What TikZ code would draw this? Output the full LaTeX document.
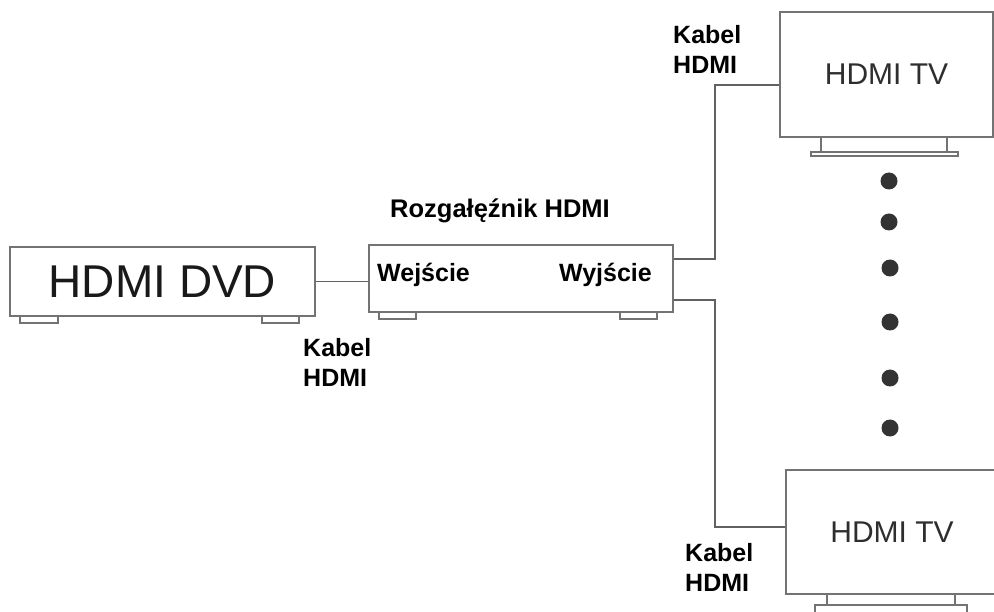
\documentclass[tikz,border=0pt]{standalone}
\usepackage{fontspec}
\setmainfont{Liberation Sans}
\begin{document}
\begin{tikzpicture}[x=1pt,y=-1pt,
  box/.style={draw=black!55,line width=1.6pt,fill=white,inner sep=0pt},
  foot/.style={draw=black!55,line width=1.3pt,fill=white},
  cable/.style={draw=black!62,line width=1.8pt},
  lbl/.style={font=\bfseries\fontsize{25}{30}\selectfont,inner sep=0pt,align=left},
  tvtext/.style={text=black!82,font=\fontsize{30}{34}\selectfont},
  dot/.style={circle,fill=black!80,minimum size=17pt,inner sep=0pt}]
\useasboundingbox (0,0) rectangle (994,612);
% DVD player
\draw[foot] (20,316) rectangle (58,323);
\draw[foot] (262,316) rectangle (299,323);
\node[box,minimum width=305pt,minimum height=69pt,font=\fontsize{46}{50}\selectfont,text=black!90] (dvd) at (162.5,281.5) {HDMI DVD};
% splitter
\draw[foot] (379,312) rectangle (416,319);
\draw[foot] (620,312) rectangle (657,319);
\node[box,minimum width=304pt,minimum height=67pt] (split) at (521,278.5) {};
\node[lbl,anchor=base,font=\bfseries\fontsize{25.5}{30}\selectfont] (title) at (500,218) {Rozgałęźnik HDMI};
\node[lbl,anchor=base west] (in) at (377,282) {Wejście};
\node[lbl,anchor=base east] (out) at (652,282) {Wyjście};
% top TV
\draw[foot] (821,137) rectangle (947,152);
\draw[foot] (811,152) rectangle (958,156);
\node[box,minimum width=213pt,minimum height=125pt,tvtext] (tv1) at (886.5,74.5) {HDMI TV};
% bottom TV
\draw[foot] (827,594) rectangle (955,605);
\draw[foot] (815,605) rectangle (967,614);
\node[box,minimum width=212pt,minimum height=124pt,tvtext] (tv2) at (892,532) {HDMI TV};
% dots
\node[dot] (d1) at (889,181) {};
\node[dot] (d2) at (889,222) {};
\node[dot] (d3) at (890,268) {};
\node[dot] (d4) at (890,322) {};
\node[dot] (d5) at (890,378) {};
\node[dot] (d6) at (890,428) {};
% cables
\draw[cable] (dvd.east) -- (dvd.east -| split.west);
\draw[cable] ([yshift=-15pt]split.north east) -- ++(41pt,0) |- ([yshift=-10.5pt]tv1.west);
\draw[cable] ([yshift=13pt]split.south east) -- ++(41pt,0) |- ([yshift=5pt]tv2.west);
% cable labels
\node[lbl,anchor=north west] (k1) at (673,25) {Kabel\\HDMI};
\node[lbl,anchor=north west] (k2) at (303,338) {Kabel\\HDMI};
\node[lbl,anchor=north west] (k3) at (685,543) {Kabel\\HDMI};
\end{tikzpicture}
\end{document}
